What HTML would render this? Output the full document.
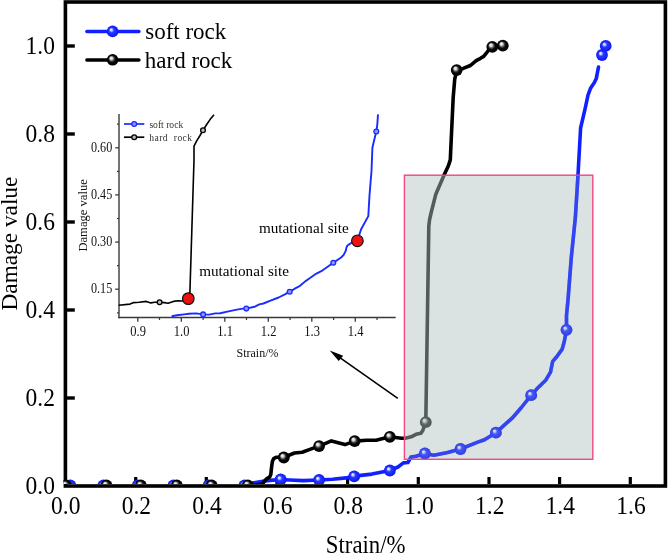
<!DOCTYPE html>
<html><head><meta charset="utf-8"><style>
html,body{margin:0;padding:0;background:#fff;}
svg{display:block;filter:blur(0.3px);}
text{font-family:"Liberation Serif", serif;}
</style></head><body>
<svg width="668" height="553" viewBox="0 0 668 553">
<defs>
<radialGradient id="gk" cx="0.5" cy="0.5" r="0.5" fx="0.35" fy="0.32">
<stop offset="0" stop-color="#ffffff"/><stop offset="0.24" stop-color="#d0d0d0"/><stop offset="0.47" stop-color="#3c3c3c"/><stop offset="0.64" stop-color="#060606"/><stop offset="1" stop-color="#000"/>
</radialGradient>
<radialGradient id="gb" cx="0.5" cy="0.5" r="0.5" fx="0.35" fy="0.33">
<stop offset="0" stop-color="#ffffff"/><stop offset="0.19" stop-color="#c4ccff"/><stop offset="0.42" stop-color="#2a3aff"/><stop offset="1" stop-color="#0a16f4"/>
</radialGradient>
<clipPath id="cp"><rect x="63.5" y="0" width="604" height="484"/></clipPath>
</defs>
<rect x="0" y="0" width="668" height="553" fill="#fff"/>

<rect x="65.4" y="2" width="600" height="484" fill="none" stroke="#000" stroke-width="3.6"/>
<line x1="135.7" y1="484" x2="135.7" y2="477" stroke="#000" stroke-width="3.2"/>
<line x1="206.3" y1="484" x2="206.3" y2="477" stroke="#000" stroke-width="3.2"/>
<line x1="277.0" y1="484" x2="277.0" y2="477" stroke="#000" stroke-width="3.2"/>
<line x1="347.6" y1="484" x2="347.6" y2="477" stroke="#000" stroke-width="3.2"/>
<line x1="418.3" y1="484" x2="418.3" y2="477" stroke="#000" stroke-width="3.2"/>
<line x1="489.0" y1="484" x2="489.0" y2="477" stroke="#000" stroke-width="3.2"/>
<line x1="559.6" y1="484" x2="559.6" y2="477" stroke="#000" stroke-width="3.2"/>
<line x1="630.3" y1="484" x2="630.3" y2="477" stroke="#000" stroke-width="3.2"/>
<line x1="67" y1="398.0" x2="74.8" y2="398.0" stroke="#000" stroke-width="3.4"/>
<line x1="67" y1="310.0" x2="74.8" y2="310.0" stroke="#000" stroke-width="3.4"/>
<line x1="67" y1="222.0" x2="74.8" y2="222.0" stroke="#000" stroke-width="3.4"/>
<line x1="67" y1="134.0" x2="74.8" y2="134.0" stroke="#000" stroke-width="3.4"/>
<line x1="67" y1="46.0" x2="74.8" y2="46.0" stroke="#000" stroke-width="3.4"/>
<text transform="translate(65.7,514.3) scale(0.98,1.05)" font-size="24" text-anchor="middle">0.0</text>
<text transform="translate(136.4,514.3) scale(0.98,1.05)" font-size="24" text-anchor="middle">0.2</text>
<text transform="translate(207.0,514.3) scale(0.98,1.05)" font-size="24" text-anchor="middle">0.4</text>
<text transform="translate(277.7,514.3) scale(0.98,1.05)" font-size="24" text-anchor="middle">0.6</text>
<text transform="translate(348.3,514.3) scale(0.98,1.05)" font-size="24" text-anchor="middle">0.8</text>
<text transform="translate(419.0,514.3) scale(0.98,1.05)" font-size="24" text-anchor="middle">1.0</text>
<text transform="translate(489.7,514.3) scale(0.98,1.05)" font-size="24" text-anchor="middle">1.2</text>
<text transform="translate(560.3,514.3) scale(0.98,1.05)" font-size="24" text-anchor="middle">1.4</text>
<text transform="translate(631.0,514.3) scale(0.98,1.05)" font-size="24" text-anchor="middle">1.6</text>
<text transform="translate(55,493.7) scale(0.98,1.05)" font-size="24" text-anchor="end">0.0</text>
<text transform="translate(55,405.7) scale(0.98,1.05)" font-size="24" text-anchor="end">0.2</text>
<text transform="translate(55,317.7) scale(0.98,1.05)" font-size="24" text-anchor="end">0.4</text>
<text transform="translate(55,229.7) scale(0.98,1.05)" font-size="24" text-anchor="end">0.6</text>
<text transform="translate(55,141.7) scale(0.98,1.05)" font-size="24" text-anchor="end">0.8</text>
<text transform="translate(55,53.7) scale(0.98,1.05)" font-size="24" text-anchor="end">1.0</text>
<text transform="translate(365.7,552.9) scale(0.975,1.07)" font-size="23.4" text-anchor="middle">Strain/%</text>
<text transform="translate(17,243.6) rotate(-90)" x="0" y="0" font-size="23.3" text-anchor="middle">Damage value</text>
<g clip-path="url(#cp)">
<polyline points="70.3,486.2 103.4,486.2 137.8,486.2 173.5,486.2 208.7,486.2 244.5,486.0 254.0,482.7 263.0,481.3 270.1,480.4 280.7,479.5 289.5,480.0 303.0,480.6 319.1,480.0 332.6,479.2 346.1,477.9 354.2,476.1 371.9,474.1 389.9,470.5 398.0,467.0 403.4,462.9 407.9,462.5 411.0,457.1 416.0,456.2 424.9,453.5 433.9,455.3 447.6,452.6 460.5,449.0 478.4,441.9 484.5,439.7 495.9,432.7 512.1,418.2 521.4,407.5 531.2,395.2 536.7,389.1 545.9,379.9 550.5,372.2 552.7,361.4 556.7,356.8 562.2,349.1 564.3,341.5 566.5,329.8 566.5,315.4 568.0,300.0 571.3,257.5 575.4,217.0 577.9,176.6 580.6,128.0 585.3,107.8 588.0,95.1 590.7,87.9 594.4,82.4 596.2,78.8 598.5,67.1" fill="none" stroke="#1020ff" stroke-width="3.6" stroke-linejoin="round" stroke-linecap="round"/>
<circle cx="70.3" cy="485.4" r="5.9" fill="url(#gb)"/>
<circle cx="103.4" cy="485.4" r="5.9" fill="url(#gb)"/>
<circle cx="137.8" cy="485.4" r="5.9" fill="url(#gb)"/>
<circle cx="173.5" cy="485.4" r="5.9" fill="url(#gb)"/>
<circle cx="208.7" cy="485.4" r="5.9" fill="url(#gb)"/>
<circle cx="244.5" cy="485.3" r="5.9" fill="url(#gb)"/>
<circle cx="280.7" cy="479.5" r="5.9" fill="url(#gb)"/>
<circle cx="319.1" cy="480" r="5.9" fill="url(#gb)"/>
<circle cx="354.2" cy="476.3" r="5.9" fill="url(#gb)"/>
<circle cx="389.9" cy="470.5" r="5.9" fill="url(#gb)"/>
<circle cx="424.9" cy="453.5" r="5.9" fill="url(#gb)"/>
<circle cx="460.5" cy="449" r="5.9" fill="url(#gb)"/>
<circle cx="495.9" cy="432.7" r="5.9" fill="url(#gb)"/>
<circle cx="531.2" cy="395.2" r="5.9" fill="url(#gb)"/>
<circle cx="566.5" cy="329.8" r="5.9" fill="url(#gb)"/>
<circle cx="602" cy="55" r="5.9" fill="url(#gb)"/>
<circle cx="605.7" cy="45.9" r="5.9" fill="url(#gb)"/>
<polyline points="66.0,486.0 106.4,486.0 140.8,486.0 176.8,486.0 211.6,486.0 247.5,486.0 262.5,484.0 264.2,481.5 266.5,478.8 269.5,477.2 270.8,474.5 271.6,467.0 272.4,461.5 273.6,458.6 276.0,457.3 283.8,457.3 294.5,453.0 302.2,452.2 309.9,449.4 319.1,446.1 331.4,440.9 345.0,444.6 354.7,441.1 366.4,440.2 376.1,440.2 389.8,436.8 401.4,438.2 405.3,438.2 411.2,436.8 416.0,434.3 420.9,433.3 422.8,430.4 423.8,427.5 425.8,422.2 428.6,240.0 428.8,226.0 429.6,219.5 431.2,212.5 435.8,194.3 440.0,184.5 444.0,175.3 448.5,165.4 450.3,159.9 451.2,140.0 452.6,110.0 453.2,97.4 454.7,79.4 456.7,70.1 463.2,68.4 470.4,65.5 473.5,62.8 476.2,60.6 480.5,58.3 483.7,56.4 486.3,53.2 488.5,50.2 492.3,46.8 502.8,45.6" fill="none" stroke="#000" stroke-width="3.6" stroke-linejoin="round" stroke-linecap="round"/>
<circle cx="66" cy="485.4" r="5.9" fill="url(#gk)"/>
<circle cx="106.4" cy="485.4" r="5.9" fill="url(#gk)"/>
<circle cx="140.8" cy="485.4" r="5.9" fill="url(#gk)"/>
<circle cx="176.8" cy="485.4" r="5.9" fill="url(#gk)"/>
<circle cx="211.6" cy="485.4" r="5.9" fill="url(#gk)"/>
<circle cx="247.8" cy="485.3" r="5.9" fill="url(#gk)"/>
<circle cx="283.8" cy="457.5" r="5.9" fill="url(#gk)"/>
<circle cx="319.1" cy="446.1" r="5.9" fill="url(#gk)"/>
<circle cx="354.7" cy="441.1" r="5.9" fill="url(#gk)"/>
<circle cx="389.8" cy="436.8" r="5.9" fill="url(#gk)"/>
<circle cx="425.8" cy="422.2" r="5.9" fill="url(#gk)"/>
<circle cx="456.7" cy="70.1" r="5.9" fill="url(#gk)"/>
<circle cx="492.3" cy="46.8" r="5.9" fill="url(#gk)"/>
<circle cx="502.8" cy="45.6" r="5.9" fill="url(#gk)"/>
</g>
<rect x="404.4" y="175.2" width="188.4" height="284.1" fill="rgb(176,196,194)" fill-opacity="0.47" stroke="#f04682" stroke-width="1.4"/>
<clipPath id="cr"><rect x="404.9" y="175.7" width="187.4" height="283.1"/></clipPath>
<g clip-path="url(#cr)" opacity="0.52">
<polyline points="70.3,486.2 103.4,486.2 137.8,486.2 173.5,486.2 208.7,486.2 244.5,486.0 254.0,482.7 263.0,481.3 270.1,480.4 280.7,479.5 289.5,480.0 303.0,480.6 319.1,480.0 332.6,479.2 346.1,477.9 354.2,476.1 371.9,474.1 389.9,470.5 398.0,467.0 403.4,462.9 407.9,462.5 411.0,457.1 416.0,456.2 424.9,453.5 433.9,455.3 447.6,452.6 460.5,449.0 478.4,441.9 484.5,439.7 495.9,432.7 512.1,418.2 521.4,407.5 531.2,395.2 536.7,389.1 545.9,379.9 550.5,372.2 552.7,361.4 556.7,356.8 562.2,349.1 564.3,341.5 566.5,329.8 566.5,315.4 568.0,300.0 571.3,257.5 575.4,217.0 577.9,176.6 580.6,128.0 585.3,107.8 588.0,95.1 590.7,87.9 594.4,82.4 596.2,78.8 598.5,67.1" fill="none" stroke="#1020ff" stroke-width="3.6" stroke-linejoin="round" stroke-linecap="round"/>
<circle cx="70.3" cy="485.4" r="5.9" fill="url(#gb)"/>
<circle cx="103.4" cy="485.4" r="5.9" fill="url(#gb)"/>
<circle cx="137.8" cy="485.4" r="5.9" fill="url(#gb)"/>
<circle cx="173.5" cy="485.4" r="5.9" fill="url(#gb)"/>
<circle cx="208.7" cy="485.4" r="5.9" fill="url(#gb)"/>
<circle cx="244.5" cy="485.3" r="5.9" fill="url(#gb)"/>
<circle cx="280.7" cy="479.5" r="5.9" fill="url(#gb)"/>
<circle cx="319.1" cy="480" r="5.9" fill="url(#gb)"/>
<circle cx="354.2" cy="476.3" r="5.9" fill="url(#gb)"/>
<circle cx="389.9" cy="470.5" r="5.9" fill="url(#gb)"/>
<circle cx="424.9" cy="453.5" r="5.9" fill="url(#gb)"/>
<circle cx="460.5" cy="449" r="5.9" fill="url(#gb)"/>
<circle cx="495.9" cy="432.7" r="5.9" fill="url(#gb)"/>
<circle cx="531.2" cy="395.2" r="5.9" fill="url(#gb)"/>
<circle cx="566.5" cy="329.8" r="5.9" fill="url(#gb)"/>
<circle cx="602" cy="55" r="5.9" fill="url(#gb)"/>
<circle cx="605.7" cy="45.9" r="5.9" fill="url(#gb)"/>
</g>
<line x1="397.8" y1="398.4" x2="337" y2="355.6" stroke="#000" stroke-width="1.6"/>
<polygon points="329.7,350.5 343.2,355.7 338.7,361" fill="#000"/>
<line x1="119" y1="114" x2="119" y2="318.2" stroke="#3a3a3a" stroke-width="1.4"/>
<line x1="118.3" y1="317.5" x2="395.7" y2="317.5" stroke="#3a3a3a" stroke-width="1.4"/>
<line x1="115.2" y1="289.2" x2="119" y2="289.2" stroke="#3a3a3a" stroke-width="1.3"/>
<line x1="115.2" y1="242.1" x2="119" y2="242.1" stroke="#3a3a3a" stroke-width="1.3"/>
<line x1="115.2" y1="194.9" x2="119" y2="194.9" stroke="#3a3a3a" stroke-width="1.3"/>
<line x1="115.2" y1="147.8" x2="119" y2="147.8" stroke="#3a3a3a" stroke-width="1.3"/>
<line x1="117" y1="312.8" x2="119" y2="312.8" stroke="#3a3a3a" stroke-width="1.2"/>
<line x1="117" y1="265.6" x2="119" y2="265.6" stroke="#3a3a3a" stroke-width="1.2"/>
<line x1="117" y1="218.5" x2="119" y2="218.5" stroke="#3a3a3a" stroke-width="1.2"/>
<line x1="117" y1="171.4" x2="119" y2="171.4" stroke="#3a3a3a" stroke-width="1.2"/>
<line x1="117" y1="124.2" x2="119" y2="124.2" stroke="#3a3a3a" stroke-width="1.2"/>
<line x1="137.8" y1="317.5" x2="137.8" y2="321.8" stroke="#3a3a3a" stroke-width="1.3"/>
<line x1="181.3" y1="317.5" x2="181.3" y2="321.8" stroke="#3a3a3a" stroke-width="1.3"/>
<line x1="224.8" y1="317.5" x2="224.8" y2="321.8" stroke="#3a3a3a" stroke-width="1.3"/>
<line x1="268.3" y1="317.5" x2="268.3" y2="321.8" stroke="#3a3a3a" stroke-width="1.3"/>
<line x1="311.8" y1="317.5" x2="311.8" y2="321.8" stroke="#3a3a3a" stroke-width="1.3"/>
<line x1="355.3" y1="317.5" x2="355.3" y2="321.8" stroke="#3a3a3a" stroke-width="1.3"/>
<line x1="159.5" y1="317.5" x2="159.5" y2="320" stroke="#3a3a3a" stroke-width="1.2"/>
<line x1="203.1" y1="317.5" x2="203.1" y2="320" stroke="#3a3a3a" stroke-width="1.2"/>
<line x1="246.5" y1="317.5" x2="246.5" y2="320" stroke="#3a3a3a" stroke-width="1.2"/>
<line x1="290.1" y1="317.5" x2="290.1" y2="320" stroke="#3a3a3a" stroke-width="1.2"/>
<line x1="333.6" y1="317.5" x2="333.6" y2="320" stroke="#3a3a3a" stroke-width="1.2"/>
<line x1="377.0" y1="317.5" x2="377.0" y2="320" stroke="#3a3a3a" stroke-width="1.2"/>
<text transform="translate(112.2,293.3) scale(0.92,1.12)" font-size="13.2" text-anchor="end" fill="#111">0.15</text>
<text transform="translate(112.2,246.2) scale(0.92,1.12)" font-size="13.2" text-anchor="end" fill="#111">0.30</text>
<text transform="translate(112.2,199.0) scale(0.92,1.12)" font-size="13.2" text-anchor="end" fill="#111">0.45</text>
<text transform="translate(112.2,151.9) scale(0.92,1.12)" font-size="13.2" text-anchor="end" fill="#111">0.60</text>
<text transform="translate(138.1,336.1) scale(0.95,1.08)" font-size="13.2" text-anchor="middle" fill="#111">0.9</text>
<text transform="translate(181.6,336.1) scale(0.95,1.08)" font-size="13.2" text-anchor="middle" fill="#111">1.0</text>
<text transform="translate(225.1,336.1) scale(0.95,1.08)" font-size="13.2" text-anchor="middle" fill="#111">1.1</text>
<text transform="translate(268.6,336.1) scale(0.95,1.08)" font-size="13.2" text-anchor="middle" fill="#111">1.2</text>
<text transform="translate(312.1,336.1) scale(0.95,1.08)" font-size="13.2" text-anchor="middle" fill="#111">1.3</text>
<text transform="translate(355.6,336.1) scale(0.95,1.08)" font-size="13.2" text-anchor="middle" fill="#111">1.4</text>
<text transform="translate(257.5,356.6) scale(1,1.08)" font-size="12" text-anchor="middle" fill="#111">Strain/%</text>
<text transform="translate(86.9,215.4) rotate(-90)" x="0" y="0" font-size="12.6" text-anchor="middle" fill="#111">Damage value</text>
<polyline points="171.6,316.2 177.0,315.3 184.2,314.4 189.0,313.8 196.1,313.4 203.1,314.4 209.3,314.6 215.3,313.4 220.1,313.2 228.5,311.4 236.9,309.6 242.8,308.6 246.3,308.6 254.4,306.8 259.3,304.4 263.4,303.5 270.5,300.7 278.6,297.5 284.9,294.4 289.7,291.7 295.7,288.1 300.0,285.8 305.5,281.1 308.6,279.0 316.0,273.8 322.3,270.6 333.3,262.8 341.1,257.5 343.7,254.9 345.8,250.7 346.4,247.6 347.4,245.5 350.6,243.4 357.4,240.8 361.0,229.5 368.3,216.1 369.5,195.4 371.5,171.0 372.4,147.8 374.4,139.3 376.3,131.5 377.3,124.6 378.0,114.4" fill="none" stroke="#1a2bff" stroke-width="1.9" stroke-linejoin="round"/>
<circle cx="203.1" cy="314.4" r="2.4" fill="#8a98ff" stroke="#1a2bff" stroke-width="1.3"/>
<circle cx="246.3" cy="308.6" r="2.4" fill="#8a98ff" stroke="#1a2bff" stroke-width="1.3"/>
<circle cx="289.7" cy="291.7" r="2.4" fill="#8a98ff" stroke="#1a2bff" stroke-width="1.3"/>
<circle cx="333.3" cy="262.8" r="2.4" fill="#8a98ff" stroke="#1a2bff" stroke-width="1.3"/>
<circle cx="376.3" cy="131.5" r="2.4" fill="#8a98ff" stroke="#1a2bff" stroke-width="1.3"/>
<polyline points="118.7,305.2 130.0,304.1 133.7,302.6 139.0,302.2 146.4,301.4 150.9,302.9 154.7,302.2 159.6,302.2 164.4,302.6 168.1,303.2 173.4,301.4 177.9,300.7 182.4,301.0 188.4,298.7 189.9,292.5 194.0,160.0 194.0,146.2 196.7,140.8 200.0,135.5 203.0,130.2 206.5,124.8 210.0,119.6 214.0,114.8" fill="none" stroke="#000" stroke-width="1.6" stroke-linejoin="round"/>
<circle cx="159.6" cy="302.2" r="2.4" fill="#bbb" stroke="#000" stroke-width="1.3"/>
<circle cx="203" cy="130.2" r="2.4" fill="#bbb" stroke="#000" stroke-width="1.3"/>
<circle cx="188.3" cy="298.6" r="5.8" fill="#ee1111" stroke="#111" stroke-width="1.2"/>
<circle cx="357.4" cy="240.8" r="5.8" fill="#ee1111" stroke="#111" stroke-width="1.2"/>
<text x="258.9" y="233" font-size="15.2" fill="#000">mutational site</text>
<text x="199.2" y="276.2" font-size="15.2" fill="#000">mutational site</text>
<line x1="124" y1="124" x2="144.3" y2="124" stroke="#1a2bff" stroke-width="1.7"/>
<circle cx="134.2" cy="124" r="2.4" fill="#8a98ff" stroke="#1a2bff" stroke-width="1.3"/>
<line x1="124" y1="137.2" x2="144.3" y2="137.2" stroke="#000" stroke-width="1.7"/>
<circle cx="134.2" cy="137.2" r="2.4" fill="#bbb" stroke="#000" stroke-width="1.3"/>
<text x="149.4" y="127.9" font-size="9.6" fill="#333">soft rock</text>
<text x="149.2" y="140.7" font-size="9.6" fill="#333" letter-spacing="0.45" xml:space="preserve">hard  rock</text>
<line x1="86.9" y1="31.5" x2="138.9" y2="31.5" stroke="#1020ff" stroke-width="3.5" stroke-linecap="round"/>
<circle cx="112.6" cy="31.4" r="5.8" fill="url(#gb)"/>
<line x1="86.9" y1="59.9" x2="138.9" y2="59.9" stroke="#000" stroke-width="3.5" stroke-linecap="round"/>
<circle cx="112.6" cy="59.8" r="5.8" fill="url(#gk)"/>
<text x="145.2" y="39.4" font-size="23">soft rock</text>
<text x="144.8" y="67.8" font-size="23">hard rock</text>
</svg></body></html>
